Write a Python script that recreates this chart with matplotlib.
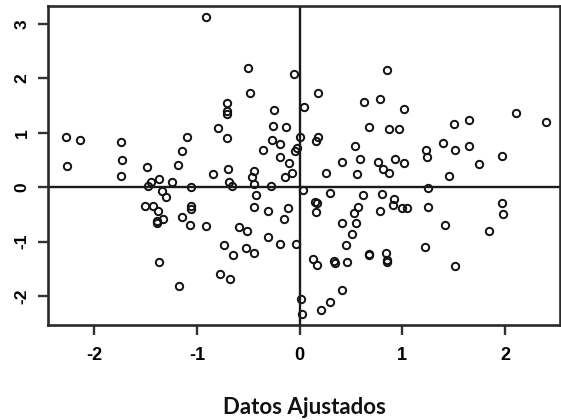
import matplotlib
matplotlib.use("Agg")
import matplotlib.pyplot as plt

# valores (x = datos ajustados, y = residuos)
x_vals = [-2.27, -2.14, -2.26, -1.74, -1.73, -1.74, -1.49, -1.48, -1.45, -1.37,
          -1.34, -1.30, -1.24, -1.18, -1.14, -1.10, -1.06, -0.91, -0.84, -0.79,
          -0.71, -0.71, -0.71, -0.705, -0.70, -0.69, -0.66, -0.50, -0.48, -0.36,
          -0.445, -0.46, -0.44, -0.42, -0.28, -0.25, -0.26, -0.13, -0.27, -0.19,
          -0.19, -0.10, -0.14, -0.07, -0.05, -0.02, -0.04, 0.0,
          -1.50, -1.43, -1.38, -1.33, -1.39, -1.39, -1.14, -1.06, -1.06, -1.07,
          -0.91, -1.37, -1.17, -0.74, -0.65, -0.77, -0.68, -0.59, -0.51, -0.52,
          -0.44, -0.44, -0.31, -0.31, -0.195, -0.15, -0.11, -0.035,
          0.18, 0.046, 0.63, 0.78, 0.85, 1.02, 0.68, 0.87, 0.97, 1.50,
          1.65, 2.11, 2.40, 0.18, 0.16, 0.41, 0.26, 0.54, 0.59, 0.56,
          0.76, 0.81, 0.87, 0.93, 1.02, 1.23, 1.24, 1.40, 1.51, 1.65,
          1.46, 1.75, 1.97, 1.25,
          0.03, 0.30, 0.62, 0.80, 0.92, 0.91, 1.00, 1.05, 1.25, 0.15,
          0.17, 0.16, 0.57, 0.53, 0.78, 0.41, 0.55, 0.51, 0.45, 1.42,
          1.22, 0.68, 0.68, 0.84, 0.85, 0.85, 0.46, 0.13, 0.17, 0.335,
          0.345, 1.51, 0.41, 0.30, 0.21, 0.01, 0.02, 1.97, 1.98, 1.84]
y_vals = [0.92, 0.87, 0.39, 0.82, 0.50, 0.20, 0.37, 0.02, 0.10, 0.15,
          -0.07, -0.18, 0.09, 0.40, 0.67, 0.92, 0.0, 3.13, 0.24, 1.08,
          1.55, 1.40, 1.35, 0.91, 0.33, 0.10, 0.02, 2.19, 1.73, 0.68,
          0.29, 0.18, 0.06, -0.15, 0.03, 1.41, 1.13, 1.10, 0.87, 0.80,
          0.56, 0.44, 0.18, 0.26, 2.07, 0.72, 0.66, 0.92,
          -0.35, -0.35, -0.43, -0.58, -0.63, -0.66, -0.54, -0.35, -0.41, -0.69,
          -0.72, -1.37, -1.81, -1.07, -1.24, -1.59, -1.68, -0.73, -0.81, -1.11,
          -1.20, -0.36, -0.44, -0.91, -1.05, -0.58, -0.38, -1.05,
          1.72, 1.48, 1.56, 1.61, 2.15, 1.44, 1.11, 1.06, 1.06, 1.16,
          1.24, 1.37, 1.19, 0.92, 0.84, 0.46, 0.26, 0.76, 0.52, 0.24,
          0.46, 0.33, 0.26, 0.52, 0.45, 0.68, 0.56, 0.81, 0.68, 0.75,
          0.21, 0.42, 0.58, -0.02,
          -0.06, -0.10, -0.15, -0.13, -0.22, -0.33, -0.38, -0.39, -0.37, -0.27,
          -0.29, -0.46, -0.36, -0.48, -0.43, -0.65, -0.65, -0.86, -1.07, -0.70,
          -1.09, -1.23, -1.25, -1.20, -1.34, -1.37, -1.37, -1.31, -1.42, -1.36,
          -1.40, -1.45, -1.88, -2.10, -2.25, -2.05, -2.33, -0.30, -0.49, -0.81]

x_ticks = [-2, -1, 0, 1, 2]
y_ticks = [-2, -1, 0, 1, 2, 3]
x_label = "Datos Ajustados"

fig = plt.figure(figsize=(5.61, 4.2), dpi=100)
ax = fig.add_axes([0.0847, 0.2262, 0.9135, 0.7602])

ax.plot(x_vals, y_vals, linestyle="none", marker="o", markersize=5.3,
        markerfacecolor="none", markeredgecolor="#111111", markeredgewidth=1.4)
ax.axhline(0, color="#1a1a1a", linewidth=1.7)
ax.axvline(0, color="#1a1a1a", linewidth=1.7)

ax.set_xlim(-2.454, 2.536)
ax.set_ylim(-2.53, 3.33)
ax.set_xticks(x_ticks)
ax.set_yticks(y_ticks)
ax.set_xticklabels([str(v) for v in x_ticks], fontfamily="Liberation Sans",
                   fontweight="bold", fontsize=13)
ax.set_yticklabels([str(v) for v in y_ticks], fontfamily="Liberation Sans",
                   fontweight="bold", fontsize=12.5, rotation=90, va="center")
ax.tick_params(direction="out", length=7.5, width=1.7, color="#333333")
ax.tick_params(axis="x", pad=8)
ax.tick_params(axis="y", pad=5.5)
for s in ax.spines.values():
    s.set_linewidth(1.9)
    s.set_color("#2a2a2a")

fig.text(0.542, 0.014, x_label, ha="center", va="baseline",
         fontfamily="Lato", fontweight="bold", fontsize=16, color="#111111")

fig.savefig("out.png", dpi=100)
